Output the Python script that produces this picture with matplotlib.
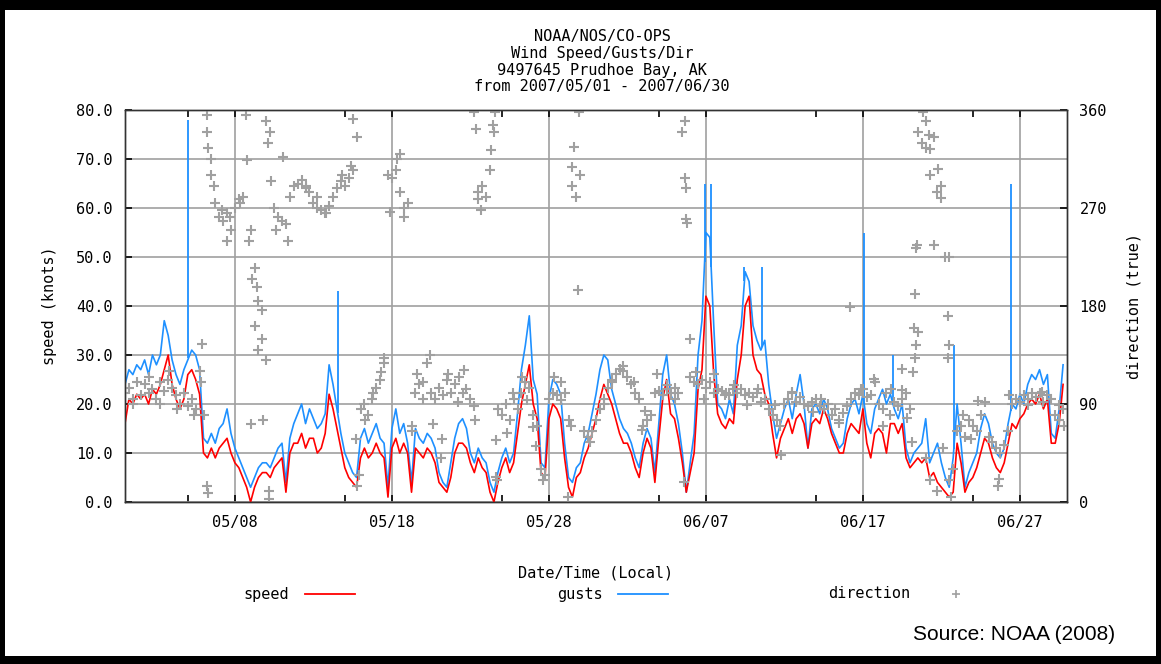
import numpy as np
import pandas as pd
import matplotlib
matplotlib.use('Agg')
import matplotlib.pyplot as plt
import matplotlib.dates as mdates
from matplotlib.lines import Line2D
from matplotlib.patches import Rectangle

# 6-hourly gust / speed values (knots), 2007-05-01 00:00 onwards, 4 per day
gusts = [
    24, 27, 26, 28,  27, 29, 26, 30,  28, 30, 37, 34,  29, 26, 24, 27,  29, 31, 30, 27,
    13, 12, 14, 12,  15, 16, 19, 14,  11, 9, 7, 5,  3, 5, 7, 8,  8, 7, 9, 11,
    12, 4, 13, 16,  18, 20, 16, 19,  17, 15, 16, 18,  28, 24, 19, 14,  10, 8, 6, 5,
    13, 15, 12, 14,  16, 13, 12, 3,  15, 19, 14, 16,  12, 4, 15, 13,  12, 14, 13, 11,
    6, 4, 3, 8,  13, 16, 17, 15,  10, 8, 11, 9,  8, 4, 2, 6,  9, 11, 8, 10,
    18, 27, 32, 38,  25, 22, 8, 7,  21, 25, 24, 22,  12, 5, 4, 7,  8, 12, 14, 18,
    22, 27, 30, 29,  23, 20, 17, 15,  14, 12, 9, 7,  12, 15, 13, 6,  16, 26, 30, 22,
    20, 16, 10, 2,  8, 14, 30, 37,  55, 54, 36, 20,  19, 17, 21, 18,  32, 36, 47, 45,
    36, 33, 31, 33,  24, 18, 13, 16,  19, 21, 17, 22,  26, 20, 11, 19,  20, 18, 21, 19,
    15, 13, 11, 12,  17, 20, 21, 18,  22, 16, 14, 19,  21, 23, 20, 22,  19, 17, 20, 11,
    8, 10, 11, 12,  17, 8, 10, 12,  8, 5, 3, 9,  20, 12, 3, 6,  8, 10, 15, 18,
    16, 12, 10, 9,  11, 16, 20, 19,  22, 20, 24, 26,  25, 27, 24, 26,  14, 13, 19, 28,
]
speed = [
    16, 21, 20, 22,  21, 22, 20, 23,  22, 24, 27, 30,  24, 21, 19, 21,  26, 27, 25, 22,
    10, 9, 11, 9,  11, 12, 13, 10,  8, 7, 5, 3,  0, 3, 5, 6,  6, 5, 7, 8,
    9, 2, 10, 12,  12, 14, 11, 13,  13, 10, 11, 14,  22, 19, 15, 11,  7, 5, 4, 3,
    9, 11, 9, 10,  12, 10, 9, 1,  11, 13, 10, 12,  10, 2, 11, 10,  9, 11, 10, 8,
    4, 3, 2, 5,  10, 12, 12, 11,  8, 6, 9, 7,  6, 2, 0, 4,  7, 9, 6, 8,
    14, 20, 24, 28,  20, 17, 6, 5,  17, 20, 19, 17,  9, 3, 1, 5,  6, 9, 11, 14,
    17, 21, 24, 22,  20, 17, 14, 12,  12, 10, 7, 5,  10, 13, 11, 4,  13, 21, 25, 18,
    17, 13, 8, 2,  6, 10, 23, 27,  42, 40, 26, 18,  16, 15, 17, 16,  25, 30, 40, 42,
    30, 27, 26, 22,  20, 14, 9, 13,  15, 17, 14, 17,  18, 16, 11, 16,  17, 16, 19, 17,
    14, 12, 10, 10,  14, 16, 15, 14,  19, 12, 9, 14,  15, 14, 10, 16,  16, 14, 16, 9,
    7, 8, 9, 8,  9, 5, 6, 4,  3, 2, 1, 2,  12, 8, 2, 4,  5, 7, 10, 13,
    12, 9, 7, 6,  8, 12, 16, 15,  17, 18, 20, 21,  20, 22, 19, 21,  12, 12, 16, 24,
]
# single-hour gust spikes
spike_times = ['2007-05-05 01:00', '2007-05-14 13:00', '2007-06-06 22:00', '2007-06-07 08:00',
               '2007-06-09 11:00', '2007-06-10 14:00', '2007-06-17 02:00', '2007-06-18 22:00',
               '2007-06-22 19:00', '2007-06-26 10:00']
spike_vals = [78, 43, 65, 65, 48, 48, 55, 30, 32, 65]

# wind direction (deg true), 6-hourly
direction = [
    100, 105, 95, 110,  98, 108, 100, 104,  95, 110, 102, 112,  105, 98, 90, 100,  88, 95, 85, 120,
    80, 340, 300, 275,  262, 258, 265, 250,  270, 278, 280, 314,  250, 215, 185, 150,  130, 340, 270, 262,
    258, 255, 280, 290,  292, 296, 288, 285,  275, 270, 268, 265,  272, 280, 288, 295,  290, 298, 305, 335,
    85, 90, 80, 95,  105, 112, 128, 300,  298, 305, 285, 270,  275, 70, 100, 108,  110, 128, 100, 95,
    105, 98, 112, 100,  108, 115, 100, 104,  95, 88, 285, 290,  280, 305, 340, 85,  80, 90, 75, 95,
    85, 100, 110, 105,  80, 70, 30, 25,  95, 100, 98, 110,  100, 75, 290, 280,  300, 65, 60, 65,
    75, 85, 95, 105,  112, 118, 122, 120,  115, 108, 100, 95,  70, 75, 80, 100,  102, 98, 104, 100,
    105, 100, 340, 260,  115, 110, 108, 112,  105, 110, 100, 104,  102, 100, 98, 104,  100, 104, 98, 100,
    96, 100, 92, 95,  85, 80, 75, 70,  90, 95, 100, 92,  96, 90, 88, 92,  95, 88, 85, 90,
    80, 85, 75, 82,  88, 95, 100, 98,  104, 96, 98, 110,  90, 85, 100, 80,  92, 88, 95, 100,
    85, 160, 340, 330,  325, 300, 335, 285,  290, 225, 20, 30,  65, 70, 60, 75,  70, 65, 80, 92,
    60, 55, 50, 45,  52, 65, 90, 95,  92, 98, 95, 100,  96, 100, 92, 98,  95, 80, 75, 85,
]
# additional scattered direction readings (day offset from 05/01, deg)
extra_day = [0.5, 1.5, 2.2, 2.8, 3.3, 4.4, 4.9, 4.85, 5.2, 5.3, 5.25, 5.3, 5.45, 5.7, 6.2, 6.5, 6.7,
             7.3, 7.7, 7.9, 8.1, 8.3, 8.5, 8.4, 8.7, 8.0, 8.8, 9.0, 9.1, 9.15, 9.2, 9.3, 9.6, 10.05,
             10.4, 11.5, 12.2, 12.8, 13.8, 14.4, 14.55, 14.7, 14.8, 14.9, 15.3, 15.8, 16.3, 16.5,
             16.9, 17.3, 17.5, 17.8, 18.3, 18.6, 19.0, 19.4, 19.6, 20.2, 20.1, 20.6, 21.2, 21.6,
             22.3, 22.25, 22.35, 22.5, 22.7, 23.3, 23.45, 23.55, 23.6, 23.65, 23.7, 24.3, 24.7,
             25.3, 25.6, 26.2, 26.0, 26.6, 27.3, 27.8, 28.2, 28.5, 28.6, 28.9, 28.85, 28.4, 29.6,
             30.5, 31.0, 31.7, 32.4, 32.9, 33.1, 33.9, 34.5, 35.0, 35.6, 35.65, 35.7, 35.75, 35.8,
             36.0, 36.4, 36.9, 37.5, 38.2, 38.8, 39.6, 40.3, 41.8, 41.4, 42.5, 43.8, 44.3, 45.5,
             46.2, 46.9, 47.7, 48.3, 48.8, 49.5, 49.8, 50.1, 49.5, 50.2, 50.3, 50.4, 50.5, 50.35,
             50.4, 50.45, 50.8, 51.0, 51.2, 51.3, 51.5, 51.8, 52.0, 52.4, 52.5, 52.5, 52.45, 51.0,
             51.3, 51.7, 52.1, 52.6, 53.4, 53.9, 54.35, 55.6, 55.65, 56.3, 57.5, 58.4, 59.5, 59.8]
extra_deg = [90, 115, 90, 120, 85, 80, 145, 110, 15, 8, 355, 325, 315, 290, 268, 240, 262,
             275, 355, 240, 205, 162, 140, 197, 176, 72, 75, 350, 330, 10, 3, 295, 250, 317,
             240, 290, 280, 265, 300, 309, 352, 58, 15, 25, 75, 100, 119, 132,
             266, 315, 320, 262, 65, 118, 95, 135, 72, 58, 40, 118, 92, 121,
             75, 358, 343, 278, 268, 323, 346, 358, 57, 23, 20, 63, 100,
             115, 94, 51, 69, 20, 115, 94, 5, 308, 326, 358, 195, 70, 55,
             90, 110, 125, 110, 66, 84, 118, 107, 95, 18, 350, 298, 288, 256,
             150, 119, 95, 118, 98, 107, 89, 104, 43, 89, 101, 83, 95, 73,
             179, 104, 113, 70, 104, 103, 77, 55, 122, 119, 132, 144, 156, 191,
             233, 236, 358, 350, 337, 324, 236, 306, 279, 171, 144, 225, 132, 40,
             20, 10, 50, 5, 80, 58, 93, 15, 21, 98, 89, 101, 89, 70]

major_dates = ['2007-05-08', '2007-05-18', '2007-05-28', '2007-06-07', '2007-06-17', '2007-06-27']
major_labels = ['05/08', '05/18', '05/28', '06/07', '06/17', '06/27']
minor_dates = ['2007-05-05', '2007-05-15', '2007-05-25', '2007-06-04', '2007-06-14', '2007-06-24']

start = pd.Timestamp('2007-05-01')
t = pd.date_range(start, periods=len(gusts), freq='6h')
t_dir = pd.date_range(start, periods=len(direction), freq='6h')
t_extra = start + pd.to_timedelta(extra_day, unit='D')
t_spike = pd.to_datetime(spike_times)

mono = 'DejaVu Sans Mono'
grey = '#a0a0a0'
red = '#ff0000'
blue = '#1e90ff'

fig = plt.figure(figsize=(11.61, 6.64), dpi=100)
ax = fig.add_axes([125/1161, 1-502/664, 942/1161, 392/664])
ax2 = ax.twinx()

ax.plot(t, gusts, color=blue, lw=1.2, zorder=2)
tn = mdates.date2num(t)
sn = mdates.date2num(t_spike)
base = np.interp(sn, tn, gusts)
ax.vlines(t_spike, base, spike_vals, color=blue, lw=1.3, zorder=2)
ax.plot(t, speed, color=red, lw=1.2, zorder=3)

ax2.plot(t_dir, direction, linestyle='none', marker='+', ms=6.5, mew=1.5, color=grey)
ax2.plot(t_extra, extra_deg, linestyle='none', marker='+', ms=6.5, mew=1.5, color=grey)

ax.set_xlim(start, pd.Timestamp('2007-06-30'))
ax.set_ylim(0, 80)
ax2.set_ylim(0, 360)

ax.set_yticks(np.arange(0, 81, 10))
ax.set_yticklabels(['%.1f' % v for v in np.arange(0, 81, 10)])
ax2.set_yticks([0, 90, 180, 270, 360])
ax.set_xticks(pd.to_datetime(major_dates))
ax.set_xticklabels(major_labels)
ax.set_xticks(pd.to_datetime(minor_dates), minor=True)

ax.grid(True, which='major', color=grey, lw=1.2)
ax.set_axisbelow(True)
ax.tick_params(axis='both', which='both', direction='in', length=5, width=1.2,
               top=True, labelsize=11, pad=9, colors='black')
ax.tick_params(axis='y', right=False)
ax2.tick_params(axis='y', direction='in', length=5, width=1.2, labelsize=11, pad=9)
for a in (ax, ax2):
    for lab in a.get_xticklabels() + a.get_yticklabels():
        lab.set_fontfamily(mono)
    for s in a.spines.values():
        s.set_color('#333333')
        s.set_linewidth(1.0)

ax.set_ylabel('speed (knots)', fontfamily=mono, fontsize=11, labelpad=14)
ax2.set_ylabel('direction (true)', fontfamily=mono, fontsize=11, labelpad=14, rotation=90)
ax.set_xlabel('Date/Time (Local)', fontfamily=mono, fontsize=11, labelpad=26)

title_lines = ['NOAA/NOS/CO-OPS', 'Wind Speed/Gusts/Dir', '9497645 Prudhoe Bay, AK',
               'from 2007/05/01 - 2007/06/30']
for i, line in enumerate(title_lines):
    fig.text(602/1161, 1 - (37 + 16.5*i)/664, line, ha='center', va='center',
             fontfamily=mono, fontsize=11)

# legend row
ly = 1 - 594/664
fig.text(243/1161, ly, 'speed', ha='left', va='center', fontfamily=mono, fontsize=11)
fig.add_artist(Line2D([305/1161, 355/1161], [ly, ly], color=red, lw=1.3))
fig.text(557/1161, ly, 'gusts', ha='left', va='center', fontfamily=mono, fontsize=11)
fig.add_artist(Line2D([618/1161, 668/1161], [ly, ly], color=blue, lw=1.3))
fig.text(828/1161, ly, 'direction', ha='left', va='center', fontfamily=mono, fontsize=11)
fig.add_artist(Line2D([956/1161], [ly], color=grey, marker='+', ms=6, mew=1.2, linestyle='none'))

fig.text(1115/1161, 1 - 634/664, 'Source: NOAA (2008)', ha='right', va='center',
         fontfamily='Liberation Sans', fontsize=15)

# black frame around the figure
for r in [(0, 0, 5/1161, 1), (0, 1-10/664, 1, 10/664), (0, 0, 1, 8/664), (1-5/1161, 0, 5/1161, 1)]:
    fig.add_artist(Rectangle((r[0], r[1]), r[2], r[3], transform=fig.transFigure,
                             facecolor='black', edgecolor='none'))

fig.savefig('out.png', dpi=100)
